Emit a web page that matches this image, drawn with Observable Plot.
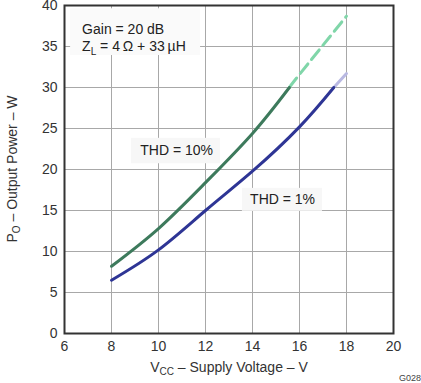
<!DOCTYPE html>
<html>
<head>
<meta charset="utf-8">
<script src="https://cdn.jsdelivr.net/npm/d3@7"></script>
<script src="https://cdn.jsdelivr.net/npm/@observablehq/plot@0.6"></script>
<style>
  html, body { margin: 0; padding: 0; background: #fff; }
  #chart svg { display: block; }
</style>
</head>
<body>
<div id="chart"></div>
<script>
// Data
const vcc10 = [8, 10, 12, 14, 15.57];
const po10 = [8.2, 12.8, 18.4, 24.4, 30.0];
const vcc10Ext = [15.57, 16, 18];
const po10Ext = [30.0, 31.6, 38.7];
const vcc1 = [8, 10, 12, 14, 16, 17.46];
const po1 = [6.5, 10.2, 15.0, 19.8, 25.2, 30.0];
const vcc1Ext = [17.46, 18];
const po1Ext = [30.0, 31.7];
const xTicks = [6, 8, 10, 12, 14, 16, 18, 20];
const yTicks = [0, 5, 10, 15, 20, 25, 30, 35, 40];

const toPts = (xs, ys) => xs.map((x, i) => ({x, y: ys[i]}));
const font = "'Liberation Sans', Arial, sans-serif";

const plot = Plot.plot({
  width: 421,
  height: 383,
  marginLeft: 64,
  marginRight: 28,
  marginTop: 5,
  marginBottom: 50,
  style: {fontFamily: font, fontSize: "14px", color: "#333", background: "#fff"},
  x: {domain: [6, 20], ticks: xTicks, label: null},
  y: {domain: [0, 40], ticks: yTicks, label: null},
  marks: [
    Plot.gridX(xTicks, {stroke: "#a8a8a8", strokeOpacity: 1, strokeWidth: 1}),
    Plot.gridY(yTicks, {stroke: "#a8a8a8", strokeOpacity: 1, strokeWidth: 1}),
    Plot.rect([{x1: 6.26, x2: 11.79, y1: 33.9, y2: 39.6}], {x1: "x1", x2: "x2", y1: "y1", y2: "y2", fill: "#fafafa"}),
    Plot.rect([{x1: 8.85, x2: 12.64, y1: 20.7, y2: 23.8}], {x1: "x1", x2: "x2", y1: "y1", y2: "y2", fill: "#f7f7f7"}),
    Plot.rect([{x1: 13.57, x2: 16.98, y1: 14.9, y2: 17.7}], {x1: "x1", x2: "x2", y1: "y1", y2: "y2", fill: "#f7f7f7"}),
    Plot.line(toPts(vcc10Ext, po10Ext), {x: "x", y: "y", stroke: "#80d6a9", strokeWidth: 3, strokeDasharray: "12,6", curve: "natural"}),
    Plot.line(toPts(vcc10, po10), {x: "x", y: "y", stroke: "#3d7a5c", strokeWidth: 3, curve: "natural"}),
    Plot.line(toPts(vcc1Ext, po1Ext), {x: "x", y: "y", stroke: "#b9b9e2", strokeWidth: 3}),
    Plot.line(toPts(vcc1, po1), {x: "x", y: "y", stroke: "#2e3595", strokeWidth: 3, curve: "natural"}),
    Plot.text(["THD = 10%"], {x: 10.77, y: 22.3, text: d => d, fontSize: 14, fill: "#222"}),
    Plot.text(["THD = 1%"], {x: 15.28, y: 16.3, text: d => d, fontSize: 14, fill: "#222"}),
    Plot.axisX({ticks: xTicks, tickSize: 0, tickPadding: 8, fontSize: 14, fill: "#333"}),
    Plot.axisY({ticks: yTicks, tickSize: 0, tickPadding: 7, fontSize: 14, fill: "#333"}),
    Plot.frame({stroke: "#333", strokeWidth: 2})
  ]
});

document.getElementById("chart").appendChild(plot);

const svg = d3.select(plot);
const sx = plot.scale("x"), sy = plot.scale("y");

// Gain / Z_L annotation
const g = svg.append("g").attr("font-family", font).attr("font-size", 14).attr("fill", "#222")
  .attr("text-anchor", "start");
g.append("text").attr("x", sx.apply(6.77)).attr("y", sy.apply(37.1)).attr("dy", "0.35em").text("Gain = 20 dB");
const z = g.append("text").attr("x", sx.apply(6.77)).attr("y", sy.apply(35.0)).attr("dy", "0.35em");
z.append("tspan").text("Z");
z.append("tspan").attr("font-size", 10).attr("dy", 4).text("L");
z.append("tspan").attr("dy", -4).text(" = 4\u2009\u03A9 + 33\u2009\u00B5H");

// Axis titles with subscripts
const xl = svg.append("text").attr("font-family", font).attr("font-size", 14).attr("fill", "#333")
  .attr("text-anchor", "middle").attr("x", 229).attr("y", 372);
xl.append("tspan").text("V");
xl.append("tspan").attr("font-size", 10).attr("dy", 3).text("CC");
xl.append("tspan").attr("dy", -3).text(" \u2013 Supply Voltage \u2013 V");

const yl = svg.append("text").attr("font-family", font).attr("font-size", 14).attr("fill", "#333")
  .attr("text-anchor", "middle").attr("transform", "translate(17,169) rotate(-90)");
yl.append("tspan").text("P");
yl.append("tspan").attr("font-size", 10).attr("dy", 3).text("O");
yl.append("tspan").attr("dy", -3).text(" \u2013 Output Power \u2013 W");

svg.append("text").attr("font-family", font).attr("font-size", 9).attr("fill", "#444")
  .attr("text-anchor", "end").attr("x", 421).attr("y", 381).text("G028");
</script>
</body>
</html>
